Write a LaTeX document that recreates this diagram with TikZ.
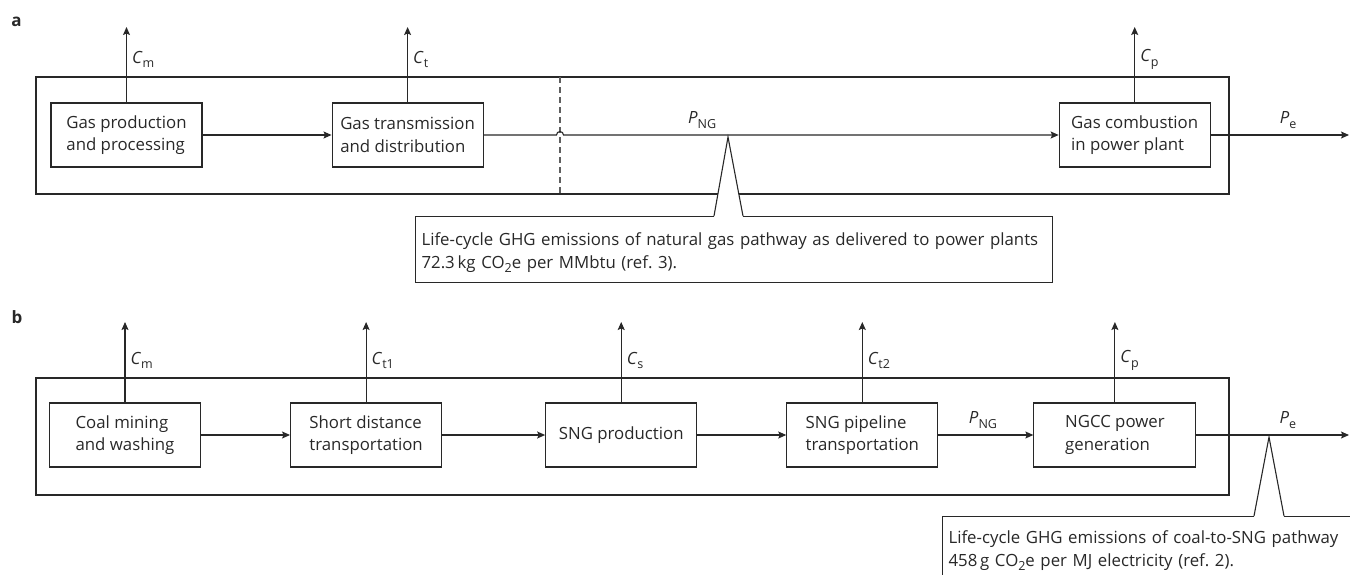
\documentclass[tikz,border=0pt]{standalone}
\usepackage{fontspec}
\setmainfont{Open Sans}
\usetikzlibrary{
    positioning,
    arrows.meta
}
\definecolor{LineGrey}{RGB}{40,40,40}
\definecolor{DashGrey}{RGB}{95,95,95}
\newcommand{\lowsub}[1]{\raisebox{-0.5ex}{\fontsize{12.5}{12.5}\selectfont#1}}

\begin{document}
\begin{tikzpicture}[
    x=1pt, y=-1pt,
    font=\fontsize{16.8}{22.5}\selectfont,
    every node/.style={text=LineGrey},
    stage/.style={rectangle, draw=LineGrey, line width=1.1pt, minimum width=151pt, minimum height=64pt, align=left, inner sep=2pt},
    frame/.style={draw=LineGrey, line width=1.1pt},
    line/.style={draw=LineGrey, line width=1.1pt},
    arrow/.style={draw=LineGrey, line width=1.1pt, -{Stealth[length=8pt, width=7pt, inset=1.5pt]}},
    divider/.style={draw=DashGrey, line width=1.1pt, dash pattern=on 6pt off 4pt},
    note/.style={draw=LineGrey, fill=white, line width=1.1pt, align=left, anchor=north west, inner xsep=6pt, inner ysep=4pt},
    tag/.style={font=\fontsize{17}{20}\selectfont\bfseries},
    flow/.style={inner sep=2pt}
]
\useasboundingbox (0,0) rectangle (1350,574);

% panel a: natural gas pathway
\node[tag] (pa) at (16.5,21.5) {a};
\draw[frame] (36,77) rectangle (1229,194);
\node[stage] (gpp) at (126.5,135) {Gas production\\and processing};
\node[stage, right=129pt of gpp] (gtd) {Gas transmission\\and distribution};
\node[stage, right=575pt of gtd] (gcp) {Gas combustion\\in power plant};
\coordinate (topa) at (0,27);
\coordinate (hopa) at (560,135);
\coordinate (outa) at (1349,135);
\draw[divider] (560,77) -- (560,194);

\draw[arrow] (gpp) -- (gtd);
\draw[arrow] (gtd) -- ([xshift=-3.5pt]hopa) arc[start angle=180, end angle=0, radius=3.5pt] -- node[flow, pos=0.28, above=4pt] {\textit{P}\lowsub{NG}} (gcp);
\draw[arrow] (gcp) -- node[flow, pos=0.56, above=4pt] {\textit{P}\lowsub{e}} (outa);
\draw[arrow] (gpp.north) -- node[flow, pos=0.57, right=3pt] {\textit{C}\lowsub{m}} (gpp.north |- topa);
\draw[arrow] (gtd.north) -- node[flow, pos=0.57, right=3pt] {\textit{C}\lowsub{t}} (gtd.north |- topa);
\draw[arrow] (gcp.north) -- node[flow, pos=0.57, right=3pt] {\textit{C}\lowsub{p}} (gcp.north |- topa);

\node[note, text width=625pt, text height=25pt, text depth=33pt] (nga) at (415,216) {Life-cycle GHG emissions of natural gas pathway as delivered to power plants\\72.3\,kg CO\lowsub{2}e per MMbtu (ref.~3).};
\coordinate (tipa) at (728,137);
\fill[white] (714,217.5) -- (tipa) -- (743,217.5) -- cycle;
\draw[line] (714,216) -- (tipa) -- (743,216);

% panel b: coal-to-SNG pathway
\node[tag] (pb) at (17,317.5) {b};
\draw[frame] (36,378) rectangle (1229,495);
\node[stage] (cmw) at (125,435) {Coal mining\\and washing};
\node[stage, right=89pt of cmw] (sdt) {Short distance\\transportation};
\node[stage, right=103pt of sdt] (sngp) {SNG production};
\node[stage, right=89pt of sngp] (spt) {SNG pipeline\\transportation};
\node[stage, right=95pt of spt, minimum width=162pt] (ngcc) {NGCC power\\generation};
\coordinate (topb) at (0,322);
\coordinate (outb) at (1349,435);

\draw[arrow] (cmw) -- (sdt);
\draw[arrow] (sdt) -- (sngp);
\draw[arrow] (sngp) -- (spt);
\draw[arrow] (spt) -- node[flow, pos=0.47, above=4pt] {\textit{P}\lowsub{NG}} (ngcc);
\draw[arrow] (ngcc) -- node[flow, pos=0.6, above=4pt] {\textit{P}\lowsub{e}} (outb);
\draw[arrow] (cmw.north) -- node[flow, pos=0.52, right=3pt] {\textit{C}\lowsub{m}} (cmw.north |- topb);
\draw[arrow] (sdt.north) -- node[flow, pos=0.52, right=3pt] {\textit{C}\lowsub{t1}} (sdt.north |- topb);
\draw[arrow] (sngp.north) -- node[flow, pos=0.52, right=3pt] {\textit{C}\lowsub{s}} (sngp.north |- topb);
\draw[arrow] (spt.north) -- node[flow, pos=0.52, right=3pt] {\textit{C}\lowsub{t2}} (spt.north |- topb);
\draw[arrow] (ngcc.north) -- node[flow, pos=0.52, right=3pt] {\textit{C}\lowsub{p}} (ngcc.north |- topb);

\node[note, text width=520pt, text height=23pt, text depth=50pt] (ngb) at (942,516) {Life-cycle GHG emissions of coal-to-SNG pathway\\458\,g CO\lowsub{2}e per MJ electricity (ref.~2).};
\coordinate (tipb) at (1269,437);
\fill[white] (1254,517.5) -- (tipb) -- (1284,517.5) -- cycle;
\draw[line] (1254,516) -- (tipb) -- (1284,516);
\end{tikzpicture}
\end{document}
